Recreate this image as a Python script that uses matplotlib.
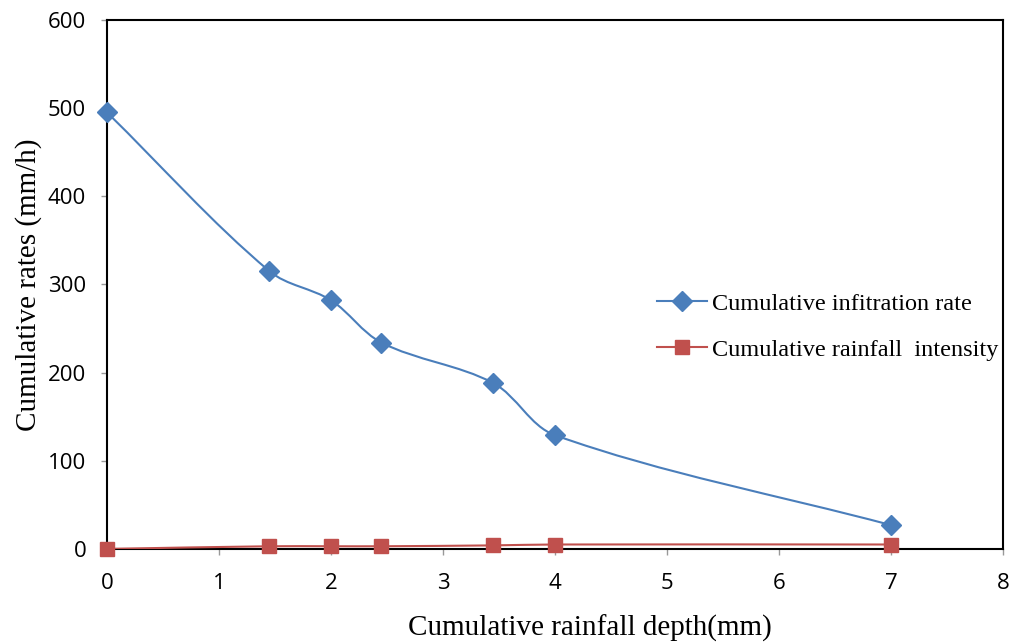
import numpy as np
import matplotlib
matplotlib.use('Agg')
import matplotlib.pyplot as plt
from matplotlib.path import Path
from matplotlib.patches import PathPatch

# data
depth = [0, 1.45, 2.0, 2.45, 3.45, 4.0, 7.0]
infiltration = [495, 315, 282, 234, 188, 129, 27]
rainfall = [0, 3, 3, 3, 4, 5, 5]

x_ticks = [0, 1, 2, 3, 4, 5, 6, 7, 8]
y_ticks = [0, 100, 200, 300, 400, 500, 600]

blue = '#4a7ebb'
red = '#c0504d'


def smooth_path(ax, xs, ys):
    # excel-like smoothed line, control points worked out in display space
    trans = ax.transData
    p = trans.transform(np.column_stack([xs, ys]).astype(float))
    n = len(p)
    verts = [p[0]]
    codes = [Path.MOVETO]
    for i in range(n - 1):
        p0 = p[i - 1] if i > 0 else p[i]
        p1 = p[i]
        p2 = p[i + 1]
        p3 = p[i + 2] if i + 2 < n else p[i + 1]
        seg = np.hypot(*(p2 - p1))
        t1 = p2 - p0
        t2 = p3 - p1
        c1 = p1 + t1 / max(np.hypot(*t1), 1e-9) * seg / 3.0
        c2 = p2 - t2 / max(np.hypot(*t2), 1e-9) * seg / 3.0
        verts += [c1, c2, p2]
        codes += [Path.CURVE4] * 3
    verts = trans.inverted().transform(np.array(verts))
    return Path(verts, codes)


fig = plt.figure(figsize=(10.1, 6.42), dpi=100)
ax = fig.add_axes([0.106, 0.145, 0.887, 0.824])
ax.set_xlim(0, 8)
ax.set_ylim(0, 600)

for ys, col, mk, ms, lab in [(infiltration, blue, 'D', 10.5, 'Cumulative infitration rate'),
                             (rainfall, red, 's', 10.5, 'Cumulative rainfall  intensity')]:
    ax.add_patch(PathPatch(smooth_path(ax, depth, ys), facecolor='none', edgecolor=col, lw=1.5, zorder=3))
    ax.plot(depth, ys, ls='none', marker=mk, ms=ms, color=col, zorder=4, clip_on=False)
    ax.plot([], [], color=col, lw=1.5, marker=mk, ms=ms, label=lab)

ax.set_xticks(x_ticks)
ax.set_yticks(y_ticks)
for sp in ax.spines.values():
    sp.set_linewidth(1.5)
    sp.set_color('black')
ax.tick_params(direction='out', length=4, width=1, color='#999999', labelsize=16)
ax.tick_params(axis='x', pad=13)
ax.tick_params(axis='y', pad=11)
for t in ax.get_xticklabels() + ax.get_yticklabels():
    t.set_family('Open Sans')

ax.set_xlabel('Cumulative rainfall depth(mm)', family='Liberation Serif', fontsize=21)
ax.xaxis.set_label_coords(0.539, -0.125)
ax.set_ylabel('Cumulative rates (mm/h)', family='Liberation Serif', fontsize=21)
ax.yaxis.set_label_coords(-0.073, 0.5)

leg = ax.legend(loc='center left', bbox_to_anchor=(0.614, 0.42), frameon=False,
                prop={'family': 'Liberation Serif', 'size': 17.5},
                borderpad=0, borderaxespad=0,
                handlelength=2.05, handletextpad=0.2, labelspacing=1.0)

fig.savefig('out.png', dpi=100)
